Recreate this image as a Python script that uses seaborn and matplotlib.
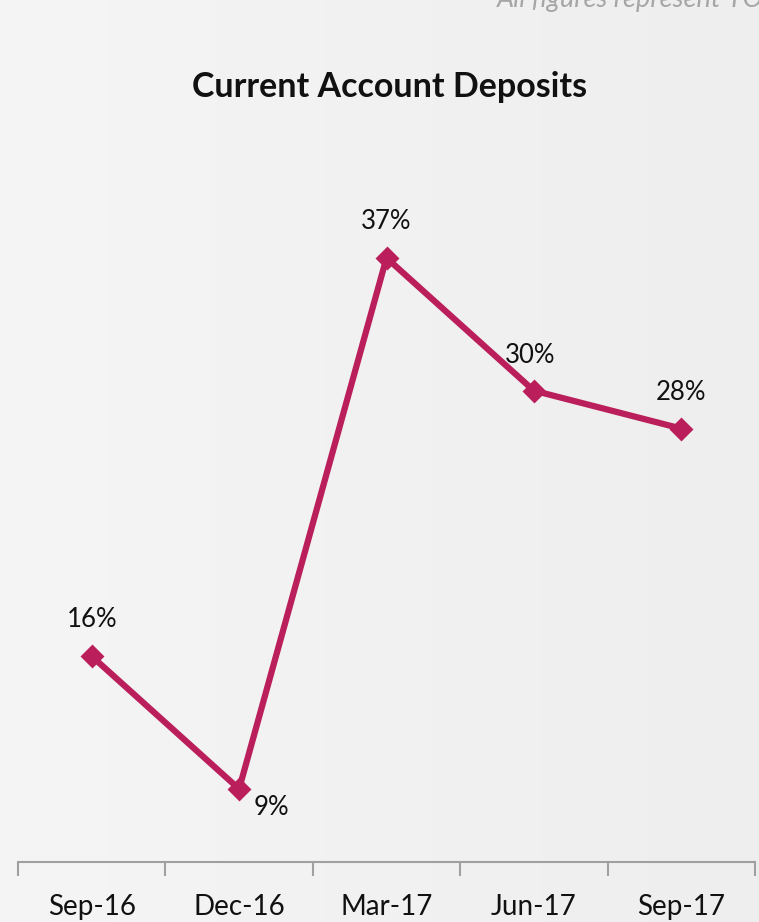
import numpy as np
import pandas as pd
import matplotlib
matplotlib.use("Agg")
import matplotlib.pyplot as plt
import seaborn as sns

# Quarter-end periods and YoY growth of current account deposits (%)
periods = ["Sep-16", "Dec-16", "Mar-17", "Jun-17", "Sep-17"]
growth = [16, 9, 37, 30, 28]
growth_labels = ["16%", "9%", "37%", "30%", "28%"]

df = pd.DataFrame({"period": periods, "growth": growth})

sns.set_theme(style="white")
plt.rcParams["font.family"] = ["Lato", "DejaVu Sans"]

W, H, DPI = 759, 922, 100
fig = plt.figure(figsize=(W / DPI, H / DPI), dpi=DPI)

# soft horizontal grey gradient behind everything
bg = fig.add_axes([0, 0, 1, 1], zorder=-10)
grad = np.linspace(0, 1, 256)[None, :]
cmap = matplotlib.colors.LinearSegmentedColormap.from_list("bg", ["#f5f5f5", "#eeeeee"])
bg.imshow(grad, aspect="auto", cmap=cmap, extent=[0, 1, 0, 1])
bg.set_axis_off()

left_px, right_px = 18, 755
bottom_px, top_px = 862, 201
ax = fig.add_axes([left_px / W, (H - bottom_px) / H,
                   (right_px - left_px) / W, (bottom_px - top_px) / H])
ax.patch.set_alpha(0)

line_color = "#ba1f5b"
sns.lineplot(data=df, x="period", y="growth", ax=ax, sort=False,
             color=line_color, linewidth=4.5, marker="D", markersize=10.5,
             markeredgecolor=line_color, markeredgewidth=2)

ax.set_xlim(-0.5, len(periods) - 0.5)
ax.set_ylim(5.15, 40)

for s in ["top", "right", "left"]:
    ax.spines[s].set_visible(False)
ax.spines["bottom"].set_color("#a0a0a0")
ax.spines["bottom"].set_linewidth(1.5)

ax.set_yticks([])
ax.set_xticks(range(len(periods)))
ax.set_xticklabels(periods, fontsize=20, color="#111111")
ax.set_xticks(np.arange(-0.5, len(periods)), minor=True)
ax.tick_params(axis="x", which="major", bottom=False, length=0, pad=23)
ax.tick_params(axis="x", which="minor", bottom=True, length=10, width=1.5,
               color="#a0a0a0", direction="out")
ax.set_xlabel("")
ax.set_ylabel("")

# value labels
offsets = [(0, 37), (32, -19), (0, 36), (-4, 35), (0, 36)]
for i, (v, lab) in enumerate(zip(growth, growth_labels)):
    dx, dy = offsets[i]
    ax.annotate(lab, (i, v), xytext=(dx, dy), textcoords="offset pixels",
                ha="center", va="center", fontsize=18.5, color="#111111")

fig.text(390 / W, 1 - 87 / H, "Current Account Deposits", ha="center",
         va="center", fontsize=24.5, fontweight="bold", color="#111111")

fig.text(497 / W, 1 - 7 / H, "All figures represent YOY growth",
         ha="left", va="baseline", fontsize=19.5, style="italic", color="#a6a6a6")

fig.savefig("out.png", dpi=DPI)
